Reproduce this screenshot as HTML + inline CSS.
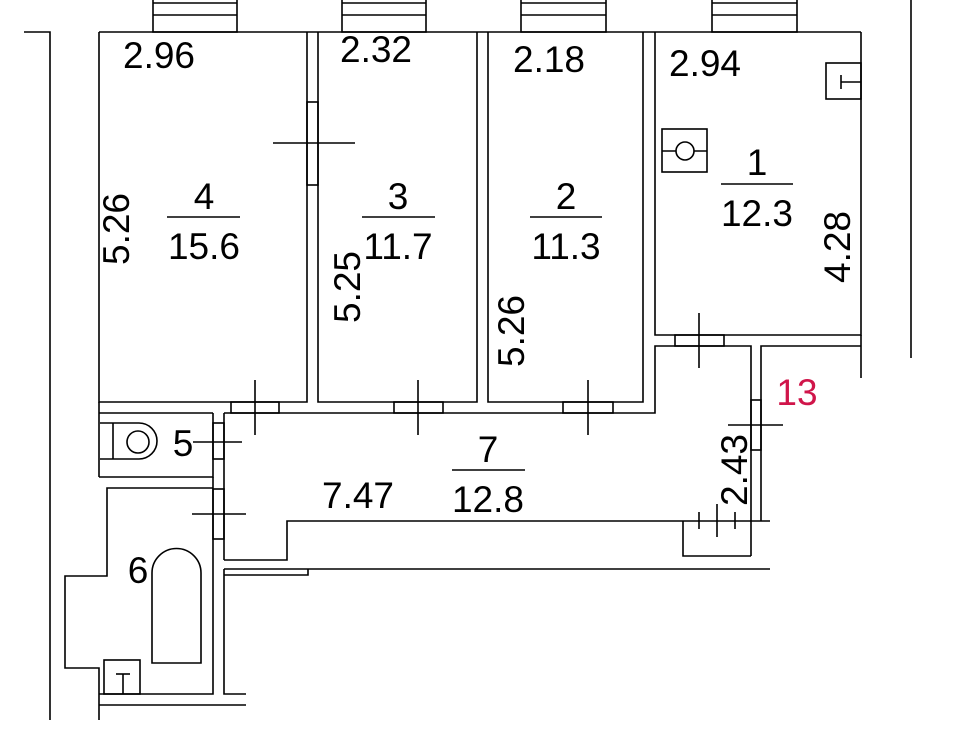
<!DOCTYPE html>
<html><head><meta charset="utf-8"><style>
html,body{margin:0;padding:0;background:#fff;}
svg{display:block;}
text{font-family:"Liberation Sans",Arial,sans-serif;font-size:37px;fill:#000;}
</style></head><body>
<svg width="967" height="733" viewBox="0 0 967 733" xmlns="http://www.w3.org/2000/svg">
<g stroke="#000" stroke-width="1.6" fill="none">
<!-- left outer line -->
<polyline points="24,32 50,32 50,720"/>
<!-- right outer line -->
<line x1="911" y1="0" x2="911" y2="358"/>
<!-- windows -->
<g>
<rect x="153" y="-2" width="84" height="34"/><line x1="153" y1="3" x2="237" y2="3"/><line x1="153" y1="15" x2="237" y2="15"/>
<rect x="342" y="-2" width="84" height="34"/><line x1="342" y1="3" x2="426" y2="3"/><line x1="342" y1="15" x2="426" y2="15"/>
<rect x="521" y="-2" width="85" height="34"/><line x1="521" y1="3" x2="606" y2="3"/><line x1="521" y1="15" x2="606" y2="15"/>
<rect x="712" y="-2" width="85" height="34"/><line x1="712" y1="3" x2="797" y2="3"/><line x1="712" y1="15" x2="797" y2="15"/>
</g>
<!-- top wall -->
<line x1="99" y1="32" x2="861" y2="32"/>
<!-- room 4 -->
<polyline points="99,32 99,402 307,402 307,32"/>
<!-- room 3 -->
<polyline points="318,32 318,402 477,402 477,32"/>
<!-- room 2 -->
<polyline points="488,32 488,402 643,402 643,32"/>
<!-- room 1 -->
<polyline points="655,32 655,335 861,335 861,32"/>
<line x1="861" y1="335" x2="861" y2="378"/>
<!-- wall below room1 -->
<polyline points="643,413 655,413 655,346 751,346 751,556"/>
<polyline points="761,521 761,346 861,346"/>
<!-- 4/3 window -->
<rect x="307" y="102" width="11" height="83"/>
<line x1="273" y1="143" x2="355" y2="143"/>
<!-- corridor top wall -->
<line x1="99" y1="413" x2="213" y2="413"/>
<line x1="224" y1="413" x2="643" y2="413"/>
<line x1="99" y1="402" x2="99" y2="477"/>
<!-- doors -->
<rect x="231" y="402" width="48" height="11"/><line x1="255" y1="380" x2="255" y2="435"/>
<rect x="394" y="402" width="49" height="11"/><line x1="418" y1="380" x2="418" y2="435"/>
<rect x="563" y="402" width="50" height="11"/><line x1="588" y1="380" x2="588" y2="435"/>
<rect x="675" y="335" width="49" height="11"/><line x1="699" y1="313" x2="699" y2="368"/>
<rect x="751" y="400" width="10" height="50"/><line x1="728" y1="425" x2="783" y2="425"/>
<!-- WC 5 -->
<polyline points="99,477 213,477 213,413"/>
<line x1="224" y1="413" x2="224" y2="560"/>
<rect x="213" y="423" width="11" height="36"/><line x1="193" y1="442" x2="242" y2="442"/>
<path d="M100,423 H139 A18,18 0 0 1 139,459 H100"/>
<line x1="113" y1="423" x2="113" y2="459"/>
<circle cx="138" cy="442" r="11"/>
<!-- bathroom 6 -->
<polyline points="213,477 213,694 99,694"/>
<polyline points="213,488 107,488 107,576 65,576 65,668 99,668 99,720"/>
<line x1="99" y1="705" x2="246" y2="705"/>
<polyline points="224,569 224,694 246,694"/>
<rect x="213" y="489" width="11" height="50"/><line x1="192" y1="514" x2="246" y2="514"/>
<path d="M152,663 V573 A24.5,24.5 0 0 1 201,573 V663 Z"/>
<rect x="104" y="660" width="36" height="34"/>
<line x1="116" y1="674" x2="130" y2="674"/><line x1="123" y1="674" x2="123" y2="694"/>
<!-- corridor bottom -->
<polyline points="224,560 287,560 287,521 770,521"/>
<line x1="224" y1="569" x2="770" y2="569"/>
<polyline points="224,575 308,575 308,569"/>
<polyline points="683,521 683,556 751,556"/>
<line x1="699" y1="512" x2="699" y2="529"/>
<line x1="717" y1="504" x2="717" y2="537"/>
<line x1="735" y1="512" x2="735" y2="529"/>
<!-- room 1 fixtures -->
<rect x="826" y="63" width="35" height="36"/>
<line x1="841" y1="75" x2="841" y2="89"/><line x1="841" y1="82" x2="861" y2="82"/>
<rect x="662" y="129" width="45" height="43"/>
<line x1="662" y1="151" x2="707" y2="151"/>
<circle cx="685" cy="151" r="9" fill="#fff"/>
<!-- fraction lines -->
<line x1="167" y1="217" x2="240" y2="217"/>
<line x1="362" y1="217" x2="435" y2="217"/>
<line x1="530" y1="217" x2="602" y2="217"/>
<line x1="721" y1="184" x2="793" y2="184"/>
<line x1="452" y1="470" x2="525" y2="470"/>
</g>
<g>
<text x="123" y="68">2.96</text>
<text x="340" y="62">2.32</text>
<text x="513" y="72">2.18</text>
<text x="669" y="76">2.94</text>
<text x="204" y="209" text-anchor="middle">4</text>
<text x="204" y="259" text-anchor="middle">15.6</text>
<text x="398" y="209" text-anchor="middle">3</text>
<text x="398" y="259" text-anchor="middle">11.7</text>
<text x="566" y="209" text-anchor="middle">2</text>
<text x="566" y="259" text-anchor="middle">11.3</text>
<text x="757" y="175" text-anchor="middle">1</text>
<text x="757" y="226" text-anchor="middle">12.3</text>
<text x="488" y="462" text-anchor="middle">7</text>
<text x="488" y="512" text-anchor="middle">12.8</text>
<text x="322" y="508">7.47</text>
<text x="183" y="456" text-anchor="middle">5</text>
<text x="138" y="583" text-anchor="middle">6</text>
<text x="797" y="405" text-anchor="middle" style="fill:#d0154a">13</text>
<text transform="translate(129,229) rotate(-90)" text-anchor="middle">5.26</text>
<text transform="translate(360,287) rotate(-90)" text-anchor="middle">5.25</text>
<text transform="translate(524,331) rotate(-90)" text-anchor="middle">5.26</text>
<text transform="translate(850,247) rotate(-90)" text-anchor="middle">4.28</text>
<text transform="translate(747,470) rotate(-90)" text-anchor="middle">2.43</text>
</g>
</svg>
</body></html>
